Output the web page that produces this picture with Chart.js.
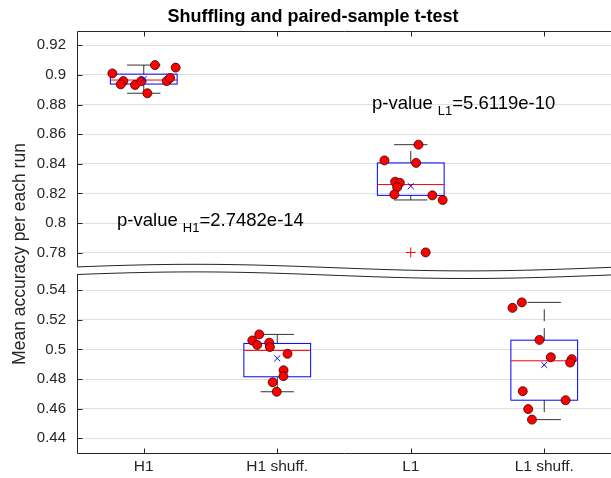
<!DOCTYPE html>
<html>
<head>
<meta charset="utf-8">
<title>Shuffling and paired-sample t-test</title>
<script src="https://cdn.jsdelivr.net/npm/chart.js@4.4.1/dist/chart.umd.min.js"></script>
<style>
  body { margin: 0; background: #fff; }
  canvas { display: block; }
</style>
</head>
<body>
<canvas id="myChart" width="611" height="478"></canvas>
<script>
// groups on the x axis
const categories = ['H1', 'H1 shuff.', 'L1', 'L1 shuff.'];

// mean accuracy of each run (10 runs per group)
const accH1      = [0.9010, 0.9066, 0.9049, 0.8958, 0.8936, 0.8932, 0.8958, 0.8876, 0.8958, 0.8979];
const accH1Shuff = [0.5101, 0.5060, 0.5030, 0.5045, 0.5016, 0.4970, 0.4859, 0.4819, 0.4778, 0.4714];
const accL1      = [0.8529, 0.8423, 0.8406, 0.8279, 0.8272, 0.8242, 0.8193, 0.8187, 0.8156, 0.7802];
const accL1Shuff = [0.5317, 0.5280, 0.5064, 0.4947, 0.4934, 0.4911, 0.4718, 0.4657, 0.4597, 0.4526];

// horizontal jitter of the dots around their box (category units)
const jitH1      = [-0.235, 0.084, 0.239, -0.153, -0.172, -0.065, -0.018, 0.027, 0.172, 0.197];
const jitH1Shuff = [-0.135, -0.187, -0.150, -0.060, -0.055, 0.077, 0.047, 0.046, -0.034, -0.004];
const jitL1      = [0.058, -0.197, 0.040, -0.117, -0.082, -0.102, -0.123, 0.162, 0.239, 0.112];
const jitL1Shuff = [-0.168, -0.238, -0.036, 0.049, 0.206, 0.194, -0.161, 0.160, -0.120, -0.092];

// box plot summary per group
const boxQ1       = [0.8938, 0.4815, 0.8187, 0.4657];
const boxMedian   = [0.8965, 0.4993, 0.8260, 0.4923];
const boxQ3       = [0.9005, 0.5040, 0.8406, 0.5062];
const whiskerLow  = [0.8876, 0.4714, 0.8156, 0.4526];
const whiskerHigh = [0.9066, 0.5101, 0.8529, 0.5317];
const means       = [0.8972, 0.4939, 0.8249, 0.4895];
const outliers    = [null, null, 0.7802, null];

// paired t-test results
const pLabels = ['H1', 'L1'];
const pValues = ['2.7482e-14', '5.6119e-10'];

// y tick labels below and above the axis break
const lowerTicks = [0.44, 0.46, 0.48, 0.5, 0.52, 0.54];
const upperTicks = [0.78, 0.8, 0.82, 0.84, 0.86, 0.88, 0.9, 0.92];

// broken y axis: values above the break are shifted down onto one linear scale
const breakLow = 0.54, breakHigh = 0.78, breakGap = 0.0252;
const shift = breakHigh - breakLow - breakGap;
const toAxis = v => v > (breakLow + breakHigh) / 2 ? v - shift : v;
const fromAxis = a => a > breakLow + breakGap / 2 ? a + shift : a;
const fmt = v => String(parseFloat(v.toFixed(2)));

const FONT = '"Liberation Sans", Arial, Helvetica, sans-serif';
const INK = '#262626';
Chart.defaults.font.family = FONT;
Chart.defaults.color = INK;

const groups = [accH1, accH1Shuff, accL1, accL1Shuff];
const jitters = [jitH1, jitH1Shuff, jitL1, jitL1Shuff];
const dots = [];
groups.forEach((vals, i) => vals.forEach((v, k) => dots.push({ x: i + 1 + jitters[i][k], y: toAxis(v) })));

function seg(ctx, x1, y1, x2, y2) {
    ctx.beginPath();
    ctx.moveTo(x1, y1);
    ctx.lineTo(x2, y2);
    ctx.stroke();
}

const boxPlot = {
    id: 'boxPlot',
    beforeDatasetsDraw(chart) {
        const { ctx, scales: { x, y } } = chart;
        const py = v => y.getPixelForValue(toAxis(v));
        ctx.save();
        ctx.lineWidth = 1;
        categories.forEach((c, i) => {
            const cx = x.getPixelForValue(i + 1);
            const hw = x.getPixelForValue(i + 1.25) - cx;
            const cw = hw / 2;
            // whiskers (dashed), then caps
            ctx.strokeStyle = '#333333';
            ctx.setLineDash([12, 7]);
            seg(ctx, cx, py(boxQ3[i]), cx, py(whiskerHigh[i]));
            seg(ctx, cx, py(boxQ1[i]), cx, py(whiskerLow[i]));
            ctx.setLineDash([]);
            seg(ctx, cx - cw, py(whiskerHigh[i]), cx + cw, py(whiskerHigh[i]));
            seg(ctx, cx - cw, py(whiskerLow[i]), cx + cw, py(whiskerLow[i]));
            // box
            ctx.strokeStyle = '#0000ff';
            ctx.strokeRect(cx - hw, py(boxQ3[i]), 2 * hw, py(boxQ1[i]) - py(boxQ3[i]));
            // median
            ctx.strokeStyle = '#ff0000';
            seg(ctx, cx - hw, py(boxMedian[i]), cx + hw, py(boxMedian[i]));
        });
        ctx.restore();
    },
    afterDraw(chart) {
        const { ctx, chartArea: a, scales: { x, y } } = chart;
        ctx.save();
        ctx.strokeStyle = INK;
        ctx.lineWidth = 1;
        const L = Math.round(a.left) + 0.5, T = Math.round(a.top) + 0.5, B = Math.round(a.bottom) - 0.5;
        seg(ctx, L, T, L, B);
        seg(ctx, L, T, a.right, T);
        seg(ctx, L, B, a.right, B);
        // ticks point inwards
        y.ticks.forEach(t => {
            const yy = Math.round(y.getPixelForValue(t.value)) + 0.5;
            seg(ctx, L, yy, L + 5, yy);
        });
        x.ticks.forEach(t => {
            const xx = Math.round(x.getPixelForValue(t.value)) + 0.5;
            seg(ctx, xx, B, xx, B - 5);
            seg(ctx, xx, T, xx, T + 5);
        });

        // axis break: two wavy lines with a white band between them
        const yb = y.getPixelForValue(breakLow + breakGap / 2);
        const wave = xx => -3.3 * Math.cos(2 * Math.PI * (xx - 195) / 546);
        const half = 3.8;
        ctx.beginPath();
        for (let xx = a.left - 2; xx <= a.right; xx++) ctx.lineTo(xx, yb - half + wave(xx));
        for (let xx = a.right; xx >= a.left - 2; xx--) ctx.lineTo(xx, yb + half + wave(xx));
        ctx.closePath();
        ctx.fillStyle = '#fff';
        ctx.fill();
        [-half, half].forEach(off => {
            ctx.beginPath();
            for (let xx = a.left; xx <= a.right; xx++) ctx.lineTo(xx, yb + off + wave(xx));
            ctx.stroke();
        });

        // p-value notes
        const noteAt = [[0.8, 0.798], [2.71, 0.877]];
        ctx.fillStyle = '#000';
        ctx.textBaseline = 'alphabetic';
        ctx.textAlign = 'left';
        pLabels.forEach((lab, i) => {
            let px = x.getPixelForValue(noteAt[i][0]);
            const pyy = y.getPixelForValue(toAxis(noteAt[i][1]));
            ctx.font = '18.5px ' + FONT;
            ctx.fillText('p-value ', px, pyy);
            px += ctx.measureText('p-value ').width;
            ctx.font = '13px ' + FONT;
            ctx.fillText(lab, px, pyy + 6);
            px += ctx.measureText(lab).width;
            ctx.font = '18.5px ' + FONT;
            ctx.fillText('=' + pValues[i], px, pyy);
        });

        // title
        ctx.fillStyle = '#000';
        ctx.font = 'bold 18px ' + FONT;
        ctx.textAlign = 'center';
        ctx.textBaseline = 'middle';
        ctx.fillText('Shuffling and paired-sample t-test', 313, 17);

        // y axis label
        ctx.translate(20, 254);
        ctx.rotate(-Math.PI / 2);
        ctx.fillStyle = INK;
        ctx.font = '17.5px ' + FONT;
        ctx.fillText('Mean accuracy per each run', 0, 0);
        ctx.restore();
    }
};

const ctx = document.getElementById('myChart').getContext('2d');
window.myChart = new Chart(ctx, {
    type: 'scatter',
    data: {
        datasets: [{
            label: 'runs',
            data: dots,
            pointRadius: 4.5,
            pointHoverRadius: 4.5,
            backgroundColor: '#ff0000',
            borderColor: '#3a0000',
            borderWidth: 0.8,
            order: 2
        }, {
            label: 'mean',
            data: means.map((m, i) => ({ x: i + 1, y: toAxis(m) })),
            pointStyle: 'crossRot',
            pointRadius: 4.2,
            borderColor: '#0000ff',
            borderWidth: 1,
            order: 0
        }, {
            label: 'outliers',
            data: outliers.map((v, i) => v === null ? null : { x: i + 1, y: toAxis(v) }).filter(p => p),
            pointStyle: 'cross',
            pointRadius: 5,
            borderColor: '#ff0000',
            borderWidth: 1,
            order: 1
        }]
    },
    options: {
        responsive: false,
        animation: false,
        devicePixelRatio: 1,
        layout: { autoPadding: false, padding: { top: 31, right: 0, bottom: 0, left: 0 } },
        plugins: { legend: { display: false }, tooltip: { enabled: false }, title: { display: false } },
        scales: {
            x: {
                type: 'linear',
                min: 0.5,
                max: 4.5,
                afterBuildTicks: s => { s.ticks = categories.map((c, i) => ({ value: i + 1 })); },
                afterFit: s => { s.height = 24; },
                ticks: {
                    callback: v => categories[v - 1],
                    font: { size: 15.5 },
                    color: INK,
                    padding: -5,
                    maxRotation: 0
                },
                grid: { display: false },
                border: { display: false }
            },
            y: {
                type: 'linear',
                min: toAxis(0.4294),
                max: toAxis(0.9296),
                afterBuildTicks: s => { s.ticks = lowerTicks.concat(upperTicks).map(v => ({ value: toAxis(v) })); },
                afterFit: s => { s.width = 77; },
                ticks: {
                    callback: v => fmt(fromAxis(v)),
                    font: { size: 15 },
                    color: INK,
                    padding: 11
                },
                grid: { color: 'rgba(38,38,38,0.15)', drawTicks: false },
                border: { display: false }
            }
        }
    },
    plugins: [boxPlot]
});
</script>
</body>
</html>
